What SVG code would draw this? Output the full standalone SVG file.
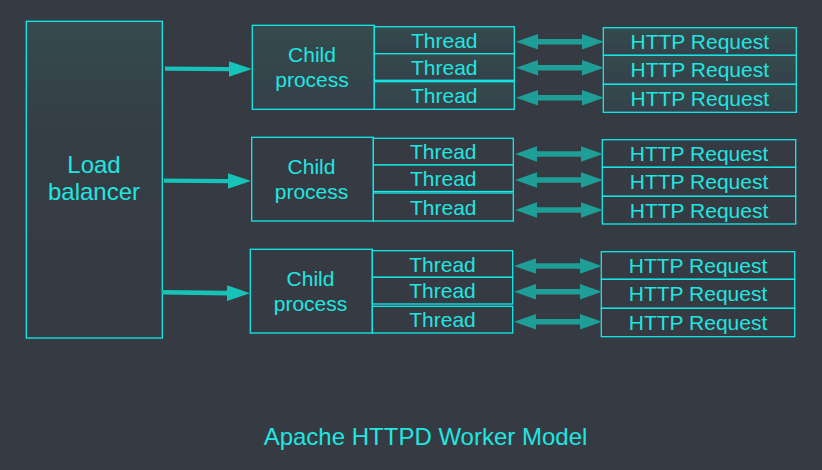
<svg xmlns="http://www.w3.org/2000/svg" width="822" height="470" viewBox="0 0 822 470">
  <defs>
    <linearGradient id="gLB" x1="0" y1="0" x2="0" y2="1">
      <stop offset="0" stop-color="#344b4d"/>
      <stop offset="0.35" stop-color="#353e45"/>
      <stop offset="1" stop-color="#363a43"/>
    </linearGradient>
    <linearGradient id="gBox" x1="0" y1="0" x2="0" y2="1">
      <stop offset="0" stop-color="#344b4d"/>
      <stop offset="1" stop-color="#35404a"/>
    </linearGradient>
    <style>
      .box { stroke: #12ecea; stroke-width: 1.3; fill: #363a43; }
      .grad { fill: url(#gBox); }
      .lb { fill: url(#gLB); }
      .t { font-family: "Liberation Sans", Arial, sans-serif; font-size: 21px; fill: #1fe6e0; text-anchor: middle; }
      .lbt { font-size: 24px; }
      .title { font-size: 24px; }
      .solid { fill: #17c2b9; }
      .dbl { fill: #1f9e97; }
    </style>
  </defs>
  <rect width="822" height="470" fill="#363a43"/>

  <g id="load-balancer">
    <rect class="box lb" x="26.3" y="21.3" width="136" height="316.7"/>
    <text class="t lbt" x="94" y="173">Load</text>
    <text class="t lbt" x="94" y="200">balancer</text>
  </g>

  <!-- Group 1 -->
  <g id="child1">
    <rect class="box grad" x="252.3" y="25.3" width="122" height="84"/>
    <text class="t" x="312" y="62">Child</text>
    <text class="t" x="312" y="87">process</text>
  </g>
  <g id="thread1a"><rect class="box grad" x="374.3" y="26.7" width="140" height="27"/><text class="t" x="444.3" y="47.5">Thread</text></g>
  <g id="thread1b"><rect class="box grad" x="374.3" y="53.7" width="140" height="26.6"/><text class="t" x="444.3" y="74.5">Thread</text></g>
  <g id="thread1c"><rect class="box grad" x="374.3" y="81.7" width="140" height="27.6"/><text class="t" x="444.3" y="103">Thread</text></g>
  <g id="req1a"><rect class="box grad" x="603.3" y="27.7" width="193" height="27.6"/><text class="t" x="699.8" y="49">HTTP Request</text></g>
  <g id="req1b"><rect class="box grad" x="603.3" y="55.3" width="193" height="29"/><text class="t" x="699.8" y="77.3">HTTP Request</text></g>
  <g id="req1c"><rect class="box grad" x="603.3" y="84.3" width="193" height="28"/><text class="t" x="699.8" y="105.8">HTTP Request</text></g>

  <!-- Group 2 -->
  <g id="child2">
    <rect class="box" x="251.7" y="137.3" width="121.7" height="83.7"/>
    <text class="t" x="311.5" y="174">Child</text>
    <text class="t" x="311.5" y="199">process</text>
  </g>
  <g id="thread2a"><rect class="box" x="373.3" y="138.3" width="140" height="26.7"/><text class="t" x="443.3" y="159">Thread</text></g>
  <g id="thread2b"><rect class="box" x="373.3" y="165" width="140" height="26.5"/><text class="t" x="443.3" y="186">Thread</text></g>
  <g id="thread2c"><rect class="box" x="373.3" y="193" width="140" height="28"/><text class="t" x="443.3" y="214.5">Thread</text></g>
  <g id="req2a"><rect class="box" x="602.3" y="139.7" width="193.4" height="27.6"/><text class="t" x="699" y="161">HTTP Request</text></g>
  <g id="req2b"><rect class="box" x="602.3" y="167.3" width="193.4" height="29"/><text class="t" x="699" y="189.3">HTTP Request</text></g>
  <g id="req2c"><rect class="box" x="602.3" y="196.3" width="193.4" height="27.7"/><text class="t" x="699" y="217.7">HTTP Request</text></g>

  <!-- Group 3 -->
  <g id="child3">
    <rect class="box" x="250.3" y="249.3" width="122" height="83.7"/>
    <text class="t" x="310.5" y="286">Child</text>
    <text class="t" x="310.5" y="311">process</text>
  </g>
  <g id="thread3a"><rect class="box" x="372.3" y="250.7" width="140.4" height="26.6"/><text class="t" x="442.5" y="271.5">Thread</text></g>
  <g id="thread3b"><rect class="box" x="372.3" y="277.3" width="140.4" height="26.7"/><text class="t" x="442.5" y="298">Thread</text></g>
  <g id="thread3c"><rect class="box" x="372.3" y="306.3" width="140.4" height="26.7"/><text class="t" x="442.5" y="327">Thread</text></g>
  <g id="req3a"><rect class="box" x="601.3" y="251.7" width="193.4" height="27.6"/><text class="t" x="698" y="273">HTTP Request</text></g>
  <g id="req3b"><rect class="box" x="601.3" y="279.3" width="193.4" height="29"/><text class="t" x="698" y="301.3">HTTP Request</text></g>
  <g id="req3c"><rect class="box" x="601.3" y="308.3" width="193.4" height="28.4"/><text class="t" x="698" y="330">HTTP Request</text></g>

  <g id="connectors">
    <!-- load balancer to child processes -->
    <path class="solid" d="M165,66.5 L229,67 L229,61.3 L252,69 L229,76.7 L229,71.2 L165,70.8 Z"/>
    <path class="solid" d="M164,178.5 L228,179 L228,173.3 L251,181 L228,188.7 L228,183.2 L164,182.8 Z"/>
    <path class="solid" d="M162,290 L227,290.8 L227,285.3 L250,293.2 L227,301 L227,295.4 L162,294.5 Z"/>
    <!-- group 1 double arrows -->
    <path class="dbl" d="M516,41.7 L538,34 L538,39 L582,39 L582,34 L604,41.7 L582,49.4 L582,44.4 L538,44.4 L538,49.4 Z"/>
    <path class="dbl" d="M516,67.7 L538,60 L538,65 L582,65 L582,60 L604,67.7 L582,75.4 L582,70.4 L538,70.4 L538,75.4 Z"/>
    <path class="dbl" d="M516,97.7 L538,90 L538,95 L582,95 L582,90 L604,97.7 L582,105.4 L582,100.4 L538,100.4 L538,105.4 Z"/>
    <!-- group 2 double arrows -->
    <path class="dbl" d="M515,154 L537,146.3 L537,151.3 L581,151.3 L581,146.3 L603,154 L581,161.7 L581,156.7 L537,156.7 L537,161.7 Z"/>
    <path class="dbl" d="M515,180 L537,172.3 L537,177.3 L581,177.3 L581,172.3 L603,180 L581,187.7 L581,182.7 L537,182.7 L537,187.7 Z"/>
    <path class="dbl" d="M515,210 L537,202.3 L537,207.3 L581,207.3 L581,202.3 L603,210 L581,217.7 L581,212.7 L537,212.7 L537,217.7 Z"/>
    <!-- group 3 double arrows -->
    <path class="dbl" d="M514,266 L536,258.3 L536,263.3 L580,263.3 L580,258.3 L602,266 L580,273.7 L580,268.7 L536,268.7 L536,273.7 Z"/>
    <path class="dbl" d="M514,291.7 L536,284 L536,289 L580,289 L580,284 L602,291.7 L580,299.4 L580,294.4 L536,294.4 L536,299.4 Z"/>
    <path class="dbl" d="M514,321.7 L536,314 L536,319 L580,319 L580,314 L602,321.7 L580,329.4 L580,324.4 L536,324.4 L536,329.4 Z"/>
  </g>

  <text class="t title" x="425.5" y="445">Apache HTTPD Worker Model</text>
</svg>
